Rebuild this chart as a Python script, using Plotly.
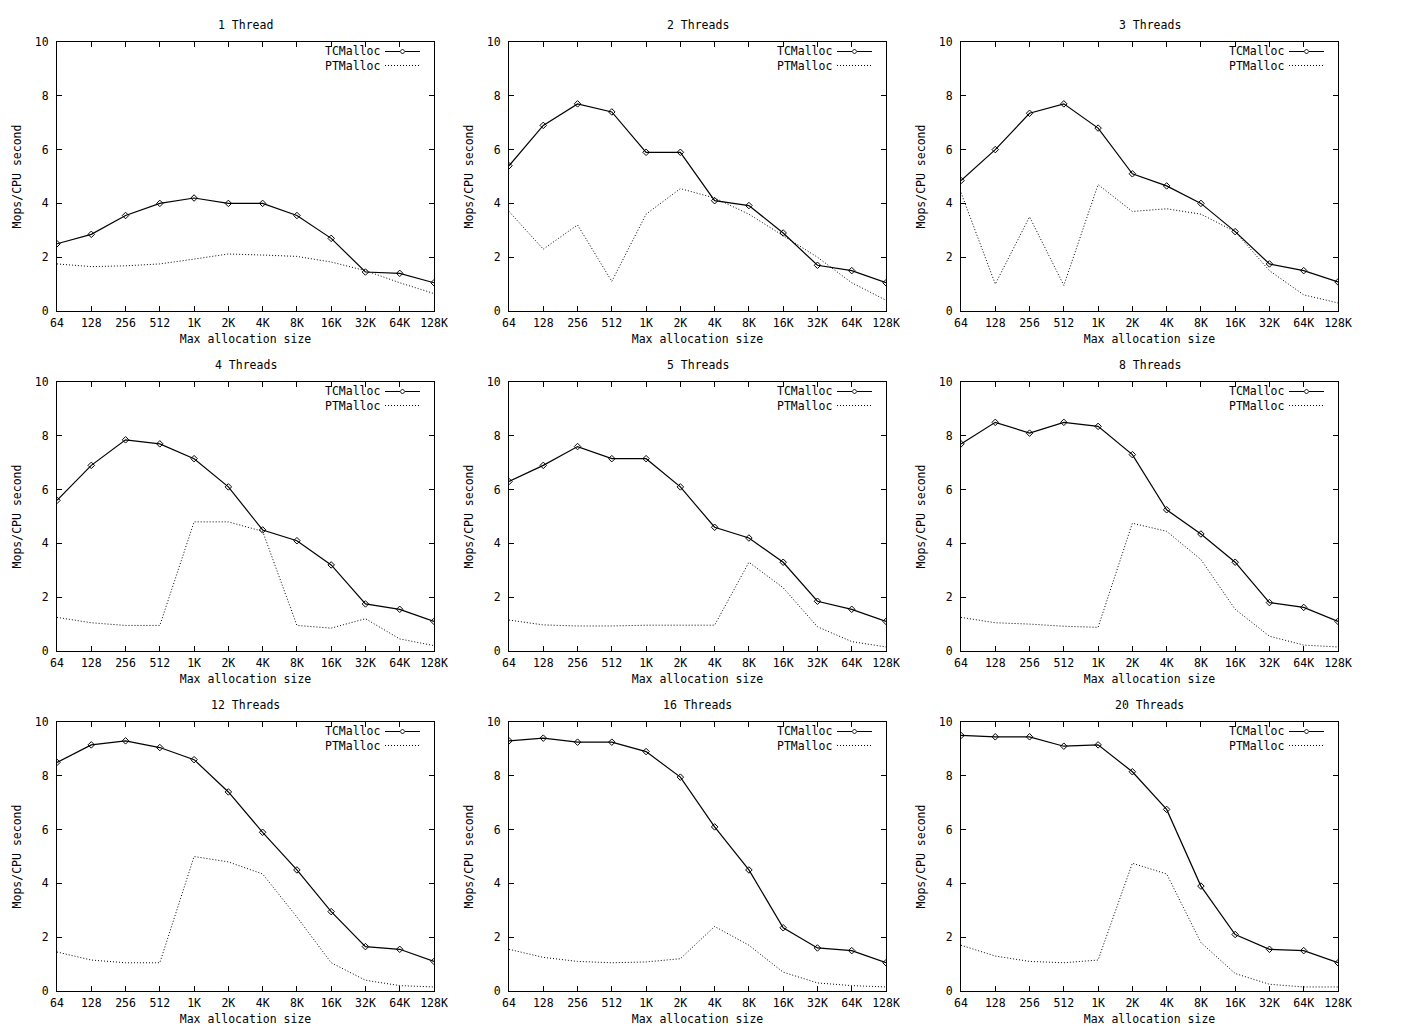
import plotly.graph_objects as go

# ---------------- data ----------------
sizes = ["64", "128", "256", "512", "1K", "2K", "4K", "8K", "16K", "32K", "64K", "128K"]
titles = ["1 Thread", "2 Threads", "3 Threads", "4 Threads", "5 Threads",
          "8 Threads", "12 Threads", "16 Threads", "20 Threads"]

tc_1 = [2.5, 2.85, 3.55, 4.0, 4.2, 4.0, 4.0, 3.55, 2.7, 1.45, 1.4, 1.05]
pt_1 = [1.75, 1.65, 1.68, 1.75, 1.93, 2.12, 2.08, 2.03, 1.82, 1.5, 1.05, 0.65]

tc_2 = [5.4, 6.9, 7.7, 7.4, 5.9, 5.9, 4.1, 3.92, 2.9, 1.7, 1.5, 1.05]
pt_2 = [3.7, 2.3, 3.2, 1.1, 3.6, 4.55, 4.2, 3.6, 2.8, 2.0, 1.05, 0.4]

tc_3 = [4.85, 6.0, 7.35, 7.7, 6.8, 5.1, 4.65, 4.0, 2.95, 1.75, 1.5, 1.08]
pt_3 = [4.4, 1.0, 3.5, 0.95, 4.7, 3.7, 3.8, 3.6, 2.95, 1.5, 0.6, 0.3]

tc_4 = [5.6, 6.9, 7.85, 7.7, 7.15, 6.1, 4.5, 4.1, 3.2, 1.75, 1.55, 1.1]
pt_4 = [1.25, 1.05, 0.95, 0.95, 4.8, 4.8, 4.45, 0.95, 0.85, 1.2, 0.45, 0.2]

tc_5 = [6.3, 6.9, 7.6, 7.15, 7.15, 6.1, 4.6, 4.2, 3.3, 1.85, 1.55, 1.1]
pt_5 = [1.15, 0.97, 0.93, 0.93, 0.96, 0.96, 0.96, 3.3, 2.35, 0.9, 0.35, 0.15]

tc_8 = [7.7, 8.5, 8.1, 8.5, 8.35, 7.3, 5.25, 4.35, 3.3, 1.8, 1.62, 1.1]
pt_8 = [1.25, 1.05, 1.0, 0.92, 0.88, 4.75, 4.45, 3.4, 1.55, 0.55, 0.22, 0.15]

tc_12 = [8.5, 9.15, 9.3, 9.05, 8.6, 7.4, 5.9, 4.5, 2.95, 1.65, 1.55, 1.1]
pt_12 = [1.45, 1.15, 1.05, 1.05, 5.0, 4.8, 4.35, 2.75, 1.05, 0.4, 0.2, 0.15]

tc_16 = [9.3, 9.4, 9.25, 9.25, 8.9, 7.95, 6.1, 4.5, 2.35, 1.6, 1.5, 1.05]
pt_16 = [1.55, 1.25, 1.1, 1.05, 1.08, 1.2, 2.4, 1.7, 0.7, 0.3, 0.2, 0.15]

tc_20 = [9.5, 9.45, 9.45, 9.1, 9.15, 8.15, 6.75, 3.9, 2.1, 1.55, 1.5, 1.05]
pt_20 = [1.7, 1.3, 1.1, 1.05, 1.15, 4.75, 4.35, 1.8, 0.65, 0.25, 0.15, 0.15]

tc_series = [tc_1, tc_2, tc_3, tc_4, tc_5, tc_8, tc_12, tc_16, tc_20]
pt_series = [pt_1, pt_2, pt_3, pt_4, pt_5, pt_8, pt_12, pt_16, pt_20]

# ---------------- layout ----------------
W, H = 1421, 1030
col_px = [(57, 434), (509, 886), (961, 1338)]
row_px = [(42, 311), (382, 651), (722, 991)]
PW, PH = 377.0, 269.0
FONT = "DejaVu Sans Mono"
FS = 11.5
DOT = "1px,2px"

fig = go.Figure()
layout = dict(
    template="none",
    width=W, height=H, margin=dict(l=0, r=0, t=0, b=0, pad=0),
    paper_bgcolor="white", plot_bgcolor="white",
    showlegend=False,
    font=dict(family=FONT, size=FS, color="black"),
)
annotations = []
shapes = []

for i in range(9):
    r, c = divmod(i, 3)
    n = "" if i == 0 else str(i + 1)
    xa, ya = "x" + n, "y" + n
    x0, x1 = col_px[c]
    y0, y1 = row_px[r]
    xdom = [x0 / W, x1 / W]
    ydom = [1 - y1 / H, 1 - y0 / H]

    fig.add_trace(go.Scatter(
        x=sizes, y=tc_series[i], xaxis=xa, yaxis=ya, name="TCMalloc",
        mode="lines+markers",
        line=dict(color="black", width=1.2),
        marker=dict(symbol="diamond-open", size=5, color="black", line=dict(width=1)),
    ))
    fig.add_trace(go.Scatter(
        x=sizes, y=pt_series[i], xaxis=xa, yaxis=ya, name="PTMalloc",
        mode="lines",
        line=dict(color="black", width=1, dash=DOT),
    ))

    axis_common = dict(
        automargin=False,
        showline=True, linecolor="black", linewidth=1, mirror="ticks",
        ticks="inside", ticklen=5, tickcolor="black", tickwidth=1,
        showgrid=False, zeroline=False,
        tickfont=dict(family=FONT, size=FS, color="black"),
    )
    layout["xaxis" + n] = dict(
        axis_common, domain=xdom, anchor=ya, type="category",
        range=[0, len(sizes) - 1], ticklabelstandoff=1,
        title=dict(text="Max allocation size", standoff=6,
                   font=dict(family=FONT, size=FS, color="black")),
    )
    layout["yaxis" + n] = dict(
        axis_common, domain=ydom, anchor=xa, range=[0, 10], dtick=2,
        ticklabelstandoff=5,
        title=dict(text="Mops/CPU second", standoff=10,
                   font=dict(family=FONT, size=FS, color="black")),
    )

    # subplot title
    annotations.append(dict(
        text=titles[i], xref="x" + n + " domain", yref="y" + n + " domain",
        x=0.5, y=1, xanchor="center", yanchor="bottom", yshift=8,
        showarrow=False, font=dict(family=FONT, size=FS, color="black"),
    ))
    # legend (text left of sample, gnuplot style) - one text block, two lines
    annotations.append(dict(
        text="TCMalloc<br>PTMalloc", xref="x" + n + " domain", yref="y" + n + " domain",
        x=(PW - 52) / PW, y=1 - 16.5 / PH, xanchor="right", yanchor="middle",
        align="left", showarrow=False, font=dict(family=FONT, size=FS, color="black"),
    ))
    for k, ypx in enumerate([9.5, 23.5]):
        yf = 1 - ypx / PH
        shapes.append(dict(
            type="line", xref="x" + n + " domain", yref="y" + n + " domain",
            x0=(PW - 49) / PW, x1=(PW - 14) / PW, y0=yf, y1=yf,
            line=dict(color="black", width=1.2 if k == 0 else 1,
                      dash="solid" if k == 0 else DOT),
        ))
    shapes.append(dict(
        type="path", xref="x" + n + " domain", yref="y" + n + " domain",
        xsizemode="pixel", ysizemode="pixel",
        xanchor=(PW - 31.5) / PW, yanchor=1 - 9.5 / PH,
        path="M -2.5 0 L 0 2.5 L 2.5 0 L 0 -2.5 Z",
        line=dict(color="black", width=1), fillcolor="white",
    ))

layout["annotations"] = annotations
layout["shapes"] = shapes
fig.update_layout(**layout)

fig.write_html(
    "out.html",
    config={"displayModeBar": False},
    post_script="document.body.style.margin='0';document.body.style.overflow='hidden';",
)
